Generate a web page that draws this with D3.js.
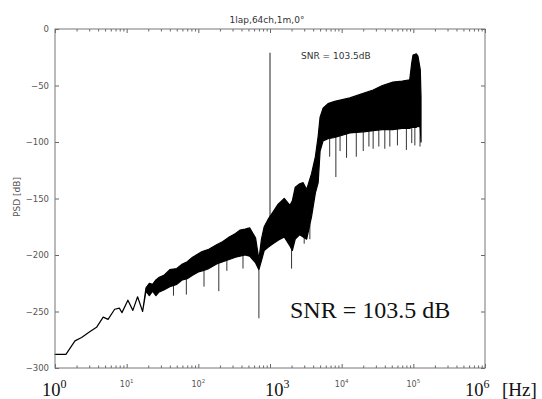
<!DOCTYPE html>
<html>
<head>
<meta charset="utf-8">
<script src="https://cdn.jsdelivr.net/npm/d3@7"></script>
<style>
  body { margin: 0; background: #fff; }
  svg { display: block; }
</style>
</head>
<body>
<figure id="psd" style="margin:0"></figure>
<script>
// spectrum: upper / lower edge of the black band
const freqHz = [1, 1.42, 1.9, 2.35, 3.05, 3.8, 4.7, 5.5, 6.8, 7.9, 8.6, 10.4, 12.2, 14.2, 16.7,
  18.6, 20.7, 23, 25.6, 28, 33, 40, 50, 60, 70, 83, 100, 113, 140, 180, 220, 270, 330, 380, 450, 520,
  630, 700, 760, 830, 950, 1100, 1300, 1580, 1900, 2050, 2250, 2600, 2900, 3250, 3800, 4300, 4700,
  5000, 5500, 6450, 8000, 13000, 20000, 27500, 37000, 52000, 70000, 89000, 95000, 99000, 110000,
  116000, 125000, 128000];
const psdMaxDb = [-288, -288, -276, -273, -268, -264, -255, -257, -248, -247, -251, -240, -249, -237, -250,
  -229, -225, -226, -222, -220, -218, -213, -212, -208, -206, -202, -199, -197, -195, -191, -188, -184, -181, -178, -177, -176,
  -185, -204, -186, -175, -168, -162, -155, -150, -156, -152, -140, -137, -136, -142, -128, -113, -95,
  -78, -70, -66, -64, -61, -57, -54, -50, -47, -46, -45, -30, -23, -22,
  -24, -36, -60];
const psdMinDb = [-288, -288, -276, -273, -268, -264, -255, -257, -248, -247, -251, -240, -249, -237, -250,
  -232, -236, -232, -236, -233, -231, -228, -226, -222, -221, -218, -215, -214, -212, -208, -206, -204, -202, -201, -200, -201,
  -207, -213, -205, -196, -193, -190, -187, -184, -192, -196, -186, -182, -184, -186, -166, -145, -136,
  -108, -99, -97, -96, -92, -91, -90, -89, -89, -88, -88, -87, -87, -87,
  -86, -87, -100];

// deep downward spikes
const dipHz = [45, 68, 120, 193, 250, 420, 700, 2000, 3000, 3600, 6800, 8300, 9500, 11700, 16000, 20000,
  24000, 27500, 33000, 40000, 47000, 60000, 80000, 95000, 105000, 124000];
const dipDb = [-236, -235, -228, -232, -214, -212, -256, -212, -190, -186, -113, -131, -108, -114, -113, -108,
  -104, -106, -104, -106, -104, -103, -107, -101, -103, -104];

const toneHz = 1000;
const toneDb = -21;

const yTicks = [0, -50, -100, -150, -200, -250, -300];
const smallDecades = [1, 2, 4, 5];
const bigDecades = [0, 3, 6];

const width = 542, height = 399;
const plotL = 55, plotR = 485, plotT = 29, plotB = 368;

const svg = d3.select("figure#psd").append("svg")
  .attr("width", width).attr("height", height);

const x = d3.scaleLog().domain([1, 1e6]).range([plotL, plotR]);
const y = d3.scaleLinear().domain([-300, 0]).range([plotB, plotT]);

// ticks: every 1..9 x decade
const majorX = d3.range(0, 7).map(e => Math.pow(10, e));
const minorX = [];
for (let e = 0; e < 6; e++) for (let k = 2; k < 10; k++) minorX.push(k * Math.pow(10, e));

function xAxis(gen, ty, values, size) {
  svg.append("g")
    .attr("transform", "translate(0," + ty + ")")
    .call(gen(x).tickValues(values).tickSize(size).tickFormat(""))
    .call(g => g.select(".domain").remove())
    .selectAll("line").attr("stroke", "#666");
}
xAxis(d3.axisBottom, plotB, majorX, -4);
xAxis(d3.axisBottom, plotB, minorX, -2.5);
xAxis(d3.axisTop, plotT, majorX, -4);
xAxis(d3.axisTop, plotT, minorX, -2.5);

svg.append("g")
  .attr("transform", "translate(" + plotL + ",0)")
  .call(d3.axisLeft(y).tickValues(yTicks).tickSize(-4).tickPadding(6).tickFormat(d => d === 0 ? "0" : "\u2212" + (-d)))
  .call(g => g.select(".domain").remove())
  .call(g => g.selectAll("line").attr("stroke", "#666"))
  .call(g => g.selectAll("text").attr("fill", "#555").style("font", "8.5px 'DejaVu Sans', sans-serif"));

svg.append("g")
  .attr("transform", "translate(" + plotR + ",0)")
  .call(d3.axisRight(y).tickValues(yTicks).tickSize(-4).tickFormat(""))
  .call(g => g.select(".domain").remove())
  .selectAll("line").attr("stroke", "#666");

// spectrum band
const pts = freqHz.map((f, i) => ({ f: f, hi: psdMaxDb[i], lo: psdMinDb[i] }));

// lower edge of band at a frequency, for where a dip starts
function lowerAt(f) {
  const i = d3.bisector(d => d.f).left(pts, f);
  if (i <= 0) return pts[0].lo;
  if (i >= pts.length) return pts[pts.length - 1].lo;
  const a = pts[i - 1], b = pts[i];
  const t = (Math.log10(f) - Math.log10(a.f)) / (Math.log10(b.f) - Math.log10(a.f));
  return a.lo + t * (b.lo - a.lo);
}

svg.append("g").selectAll("line")
  .data(dipHz.map((f, i) => ({ f: f, db: dipDb[i] })))
  .enter().append("line")
  .attr("x1", d => x(d.f)).attr("x2", d => x(d.f))
  .attr("y1", d => y(lowerAt(d.f)))
  .attr("y2", d => y(d.db))
  .attr("stroke", "#333").attr("stroke-width", 1);

// tone at 1 kHz
svg.append("line")
  .attr("x1", x(toneHz)).attr("x2", x(toneHz))
  .attr("y1", y(toneDb)).attr("y2", y(lowerAt(toneHz)))
  .attr("stroke", "#222").attr("stroke-width", 1);

svg.append("path")
  .datum(pts)
  .attr("d", d3.area().x(d => x(d.f)).y0(d => y(d.lo)).y1(d => y(d.hi)))
  .attr("fill", "#000")
  .attr("stroke", "#000")
  .attr("stroke-width", 1.2)
  .attr("stroke-linejoin", "round");

// frame
svg.append("rect")
  .attr("x", plotL).attr("y", plotT)
  .attr("width", plotR - plotL).attr("height", plotB - plotT)
  .attr("fill", "none").attr("stroke", "#777").attr("stroke-width", 1);

// title and labels
svg.append("text")
  .attr("x", 267).attr("y", 23)
  .attr("text-anchor", "middle")
  .attr("fill", "#333")
  .style("font", "9px 'DejaVu Sans', sans-serif")
  .text("1lap,64ch,1m,0\u00b0");

svg.append("text")
  .attr("transform", "translate(20,197) rotate(-90)")
  .attr("text-anchor", "middle")
  .attr("fill", "#555")
  .style("font", "9px 'DejaVu Sans', sans-serif")
  .text("PSD [dB]");

svg.append("text")
  .attr("x", 301).attr("y", 59)
  .attr("fill", "#333")
  .style("font", "9px 'DejaVu Sans', sans-serif")
  .text("SNR = 103.5dB");

svg.append("text")
  .attr("x", 290).attr("y", 318)
  .attr("fill", "#111")
  .style("font", "24px 'Liberation Serif', serif")
  .text("SNR = 103.5 dB");

// small decade labels
smallDecades.forEach(e => {
  const t = svg.append("text")
    .attr("x", x(Math.pow(10, e))).attr("y", 387)
    .attr("text-anchor", "middle")
    .attr("fill", "#555")
    .style("font", "8px 'DejaVu Sans', sans-serif");
  t.append("tspan").text("10");
  t.append("tspan").attr("dy", -4).style("font-size", "5.5px").text(e);
});

// big decade labels (not centred on their ticks in the original)
const bigShift = { 0: -13, 3: -5, 6: -20 };
bigDecades.forEach(e => {
  const t = svg.append("text")
    .attr("x", x(Math.pow(10, e)) + bigShift[e]).attr("y", 396)
    .attr("fill", "#111")
    .style("font", "18.5px 'Liberation Serif', serif");
  t.append("tspan").text("10");
  t.append("tspan").attr("dy", -8).style("font-size", "12px").text(e);
});

svg.append("text")
  .attr("x", 502).attr("y", 396)
  .attr("fill", "#111")
  .style("font", "19px 'Liberation Serif', serif")
  .text("[Hz]");
</script>
</body>
</html>
